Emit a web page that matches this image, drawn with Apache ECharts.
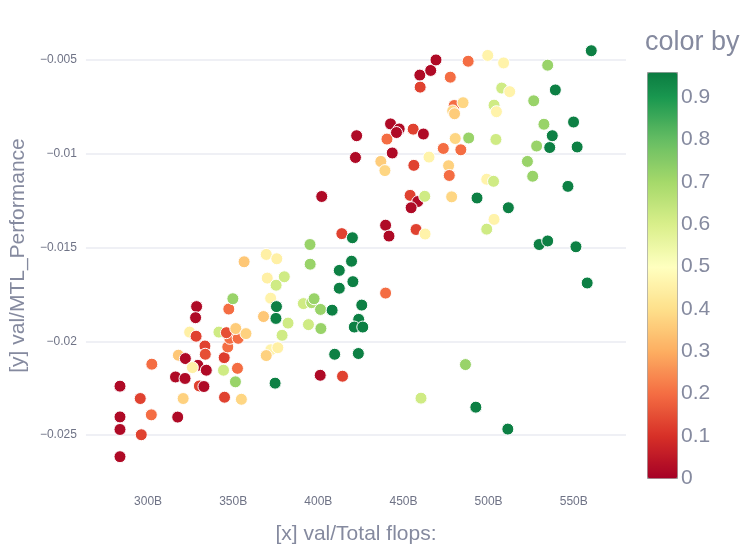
<!DOCTYPE html>
<html><head><meta charset="utf-8">
<script src="https://cdn.jsdelivr.net/npm/echarts@6/dist/echarts.min.js"></script>
<style>html,body{margin:0;padding:0;background:#fff}#c{width:751px;height:550px}</style>
</head><body><div id="c"></div>
<script>
// x: val/Total flops (in billions)
const xFlops = [
283.5,283.5,283.5,283.5,295.4,296.0,302.2,301.9,317.4,320.6,
316.1,321.7,317.8,321.9,324.4,328.2,328.5,327.9,333.4,333.6,
329.3,334.2,326.0,330.1,332.8,344.3,352.5,344.7,346.8,348.0,
352.9,341.6,346.0,351.5,357.5,347.4,349.8,351.3,344.9,354.8,
356.4,369.4,375.6,370.0,375.2,380.0,372.0,375.4,375.1,382.2,
367.8,378.7,372.1,376.2,369.4,374.6,395.1,395.2,391.2,396.1,
397.5,401.3,394.2,401.5,408.1,412.3,419.5,420.3,412.3,409.6,
423.5,401.1,414.2,413.8,420.0,402.0,439.5,425.5,423.7,421.1,
426.1,422.5,421.8,436.7,439.1,443.4,440.3,442.4,447.5,445.9,
455.7,461.7,456.1,465.0,459.6,459.8,466.0,469.1,477.5,488.0,
499.5,508.8,534.7,560.3,539.2,507.7,512.4,526.5,503.2,504.6,
479.8,485.0,478.9,480.0,549.9,532.5,537.4,535.9,552.0,528.2,
504.3,488.3,480.4,473.4,483.7,522.8,525.9,546.6,476.5,476.9,
498.9,502.9,453.9,458.4,454.5,462.5,478.3,493.2,511.6,503.2,
498.9,439.5,441.5,457.4,462.7,529.7,534.7,551.3,557.9,486.4,
460.3,492.5,511.3
];
// y: val/MTL_Performance
const yPerf = [
-0.02239,-0.02403,-0.02470,-0.02615,-0.02305,-0.02498,-0.02122,-0.02392,-0.02404,-0.02305,
-0.02190,-0.02198,-0.02074,-0.02092,-0.01951,-0.01973,-0.01815,-0.01874,-0.02025,-0.02069,
-0.02128,-0.02154,-0.02140,-0.02238,-0.02241,-0.02154,-0.02144,-0.02087,-0.02030,-0.01984,
-0.01984,-0.01951,-0.01954,-0.01932,-0.01959,-0.01828,-0.01773,-0.02216,-0.02298,-0.02309,
-0.01576,-0.01537,-0.01560,-0.01663,-0.01701,-0.01656,-0.01770,-0.01815,-0.01878,-0.01903,
-0.01868,-0.01968,-0.02045,-0.02034,-0.02076,-0.02223,-0.01484,-0.01589,-0.01799,-0.01794,
-0.01773,-0.01830,-0.01911,-0.01932,-0.01834,-0.01622,-0.01573,-0.01682,-0.01717,-0.02069,
-0.02065,-0.02181,-0.02186,-0.01426,-0.01448,-0.01228,-0.01743,-0.01807,-0.01883,-0.01924,
-0.01924,-0.00904,-0.01020,-0.01041,-0.01090,-0.00996,-0.00922,-0.00841,-0.00868,-0.00887,
-0.00869,-0.00895,-0.01062,-0.01018,-0.00581,-0.00645,-0.00556,-0.00500,-0.00592,-0.00507,
-0.00476,-0.00516,-0.00528,-0.00451,-0.00660,-0.00650,-0.00669,-0.00718,-0.00741,-0.00776,
-0.00743,-0.00728,-0.00772,-0.00787,-0.00831,-0.00843,-0.00904,-0.00967,-0.00964,-0.00959,
-0.00924,-0.00916,-0.00919,-0.00972,-0.00979,-0.01041,-0.01120,-0.01174,-0.01064,-0.01116,
-0.01136,-0.01147,-0.01222,-0.01255,-0.01288,-0.01227,-0.01230,-0.01236,-0.01288,-0.01350,
-0.01402,-0.01381,-0.01439,-0.01404,-0.01428,-0.01484,-0.01465,-0.01496,-0.01689,-0.02124,
-0.02303,-0.02351,-0.02468
];
// color by
const colorBy = [
0.02,0.02,0.02,0.02,0.13,0.13,0.2,0.2,0.02,0.37,
0.02,0.02,0.35,0.02,0.45,0.13,0.02,0.02,0.13,0.15,
0.02,0.02,0.45,0.13,0.02,0.62,0.2,0.12,0.2,0.2,
0.2,0.62,0.15,0.36,0.37,0.2,0.72,0.72,0.13,0.38,
0.35,0.45,0.45,0.45,0.62,0.62,0.46,0.95,0.95,0.62,
0.35,0.62,0.46,0.45,0.37,0.95,0.72,0.72,0.62,0.68,
0.72,0.72,0.62,0.72,0.95,0.95,0.95,0.95,0.95,0.95,
0.95,0.02,0.13,0.13,0.95,0.02,0.2,0.95,0.95,0.95,
0.95,0.02,0.02,0.36,0.38,0.02,0.2,0.02,0.02,0.02,
0.13,0.02,0.13,0.46,0.02,0.13,0.02,0.02,0.2,0.2,
0.46,0.46,0.72,0.95,0.95,0.62,0.46,0.72,0.62,0.46,
0.2,0.38,0.38,0.36,0.95,0.72,0.95,0.95,0.95,0.72,
0.62,0.72,0.38,0.2,0.2,0.72,0.72,0.95,0.37,0.2,
0.46,0.62,0.13,0.02,0.02,0.62,0.38,0.95,0.95,0.46,
0.62,0.02,0.02,0.13,0.46,0.95,0.95,0.95,0.95,0.72,
0.62,0.95,0.95
];
const colorMin = 0, colorMax = 0.96;

// RdYlGn colorscale
const RdYlGn = [[165,0,38],[215,48,39],[244,109,67],[253,174,97],[254,224,139],[255,255,191],
  [217,239,139],[166,217,106],[102,189,99],[26,152,80],[0,104,55]];
function scale(t){
  const p = Math.max(0, Math.min(1, t)) * 10;
  const i = Math.min(9, Math.floor(p)), f = p - i;
  const a = RdYlGn[i], b = RdYlGn[i+1];
  return 'rgb(' + a.map((v,k)=>Math.round(v + (b[k]-v)*f)).join(',') + ')';
}
const stops = [];
for (let i = 0; i <= 48; i++) stops.push(scale(colorMin + (colorMax - colorMin) * i / 48));

const labelColor = '#6f7386';
const titleColor = '#858a9f';
const font = 'Arial, "Liberation Sans", sans-serif';

const chart = echarts.init(document.getElementById('c'));
chart.setOption({
  animation: false,
  backgroundColor: '#fff',
  textStyle: {fontFamily: font},
  title: {
    text: 'color by', left: 645, top: 29, padding: 0,
    textStyle: {fontSize: 27, fontWeight: 'normal', color: titleColor, fontFamily: font}
  },
  grid: [
    {left: 82, right: 125, top: 24, bottom: 62},
    {left: 647, top: 72, width: 30, height: 406}
  ],
  xAxis: [{
    type: 'value', min: 263.5, max: 580.7,
    axisLine: {show: false}, axisTick: {show: false}, splitLine: {show: false},
    axisLabel: {showMinLabel: false, showMaxLabel: false, color: labelColor, fontSize: 12, margin: 9,
      formatter: v => v + 'B'},
    name: '[x] val/Total flops:', nameLocation: 'middle', nameGap: 37,
    nameTextStyle: {fontSize: 21, color: titleColor}
  }, {
    gridIndex: 1, type: 'value', show: false, min: 0, max: 1
  }],
  yAxis: [{
    type: 'value', min: -0.027766, max: -0.003085,
    axisLine: {show: false}, axisTick: {show: false},
    splitLine: {show: true, showMinLine: false, showMaxLine: false, lineStyle: {color: '#eff0f5', width: 2}},
    axisLabel: {showMinLabel: false, showMaxLabel: false, color: labelColor, fontSize: 12, margin: 9,
      formatter: v => String(+v.toFixed(4)).replace('-', '\u2212')},
    name: '[y] val/MTL_Performance', nameLocation: 'middle', nameGap: 53,
    nameTextStyle: {fontSize: 21, color: titleColor}
  }, {
    gridIndex: 1, type: 'value', min: colorMin, max: colorMax, interval: 0.1, position: 'right',
    axisLine: {show: false}, axisTick: {show: false}, splitLine: {show: false},
    axisLabel: {showMaxLabel: false, color: titleColor, fontSize: 21, margin: 4,
      formatter: v => String(+v.toFixed(1))}
  }],
  visualMap: {
    type: 'continuous', min: colorMin, max: colorMax, dimension: 2, seriesIndex: 0,
    left: 647, top: 72, itemWidth: 30, itemHeight: 406, padding: 0,
    calculable: false, hoverLink: false, text: null, showLabel: false,
    borderColor: '#999', borderWidth: 1,
    inRange: {color: stops}
  },
  series: [{
    type: 'scatter',
    data: xFlops.map((x, i) => [x, yPerf[i], colorBy[i]]),
    symbolSize: 12,
    itemStyle: {borderColor: '#fff', borderWidth: 1, opacity: 1}
  }]
});
</script>
</body></html>
